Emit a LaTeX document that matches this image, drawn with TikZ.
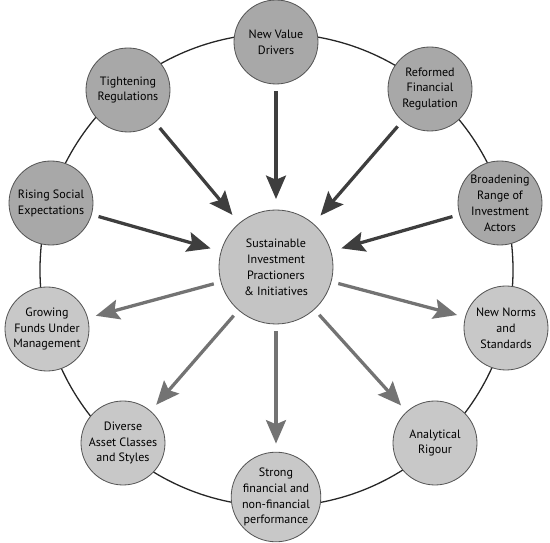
\documentclass[tikz,border=0pt]{standalone}
\usepackage{fontspec}
\setmainfont{PT Sans}
\usetikzlibrary{arrows.meta}
\definecolor{INgrey}{RGB}{168,168,168}
\definecolor{OUTgrey}{RGB}{200,200,200}
\definecolor{HUBgrey}{RGB}{196,196,196}
\definecolor{EDGEgrey}{RGB}{85,85,85}
\definecolor{INarrow}{RGB}{62,62,62}
\definecolor{OUTarrow}{RGB}{115,115,115}

\begin{document}
\begin{tikzpicture}[
      x=0.03cm,y=-0.03cm,
      font=\fontsize{10.3}{13.6}\selectfont,
      ring/.style={draw=black!85,line width=1.1pt},
      satin/.style={circle,draw=EDGEgrey,line width=0.7pt,fill=INgrey,minimum size=2.52cm,inner sep=0pt,align=center},
      satout/.style={satin,fill=OUTgrey},
      hub/.style={satin,fill=HUBgrey,minimum size=3.42cm},
      inarr/.style={-{Stealth[length=20pt,width=17pt,inset=3.5pt]},line width=2.8pt,draw=INarrow,shorten <=6pt,shorten >=9pt},
      outarr/.style={-{Stealth[length=20pt,width=17pt,inset=3.5pt]},line width=2.8pt,draw=OUTarrow,shorten <=6pt,shorten >=7pt}
    ]
    \useasboundingbox (0,0) rectangle (550,543);
    \draw[ring] (276.5,270) circle[radius=7.095cm];
    % hub
    \node[hub] (hub) at (276,267) {Sustainable\\Investment\\Practioners\\\& Initiatives};
    % drivers
    \node[satin] (drivers) at (276,42) {New Value\\Drivers};
    \node[satin] (reformed) at (430,89) {Reformed\\Financial\\Regulation};
    \node[satin] (broadening) at (500,203) {Broadening\\Range of\\Investment\\Actors};
    \node[satin] (rising) at (51,203) {Rising Social\\Expectations};
    \node[satin] (tightening) at (128,90) {Tightening\\Regulations};
    % outcomes
    \node[satout] (growing) at (47,329) {Growing\\Funds Under\\Management};
    \node[satout] (diverse) at (123,443) {Diverse\\Asset Classes\\and Styles};
    \node[satout] (strong) at (276,497) {Strong\\financial and\\non-financial\\performance};
    \node[satout] (rigour) at (435,443) {Analytical\\Rigour};
    \node[satout] (norms) at (506,328) {New Norms\\and\\Standards};
    \foreach \src in {drivers,reformed,broadening,rising,tightening}
      \draw[inarr] (\src) -- (hub);
    \foreach \dst in {growing,diverse,strong,rigour,norms}
      \draw[outarr] (hub) -- (\dst);
  \end{tikzpicture}
\end{document}
